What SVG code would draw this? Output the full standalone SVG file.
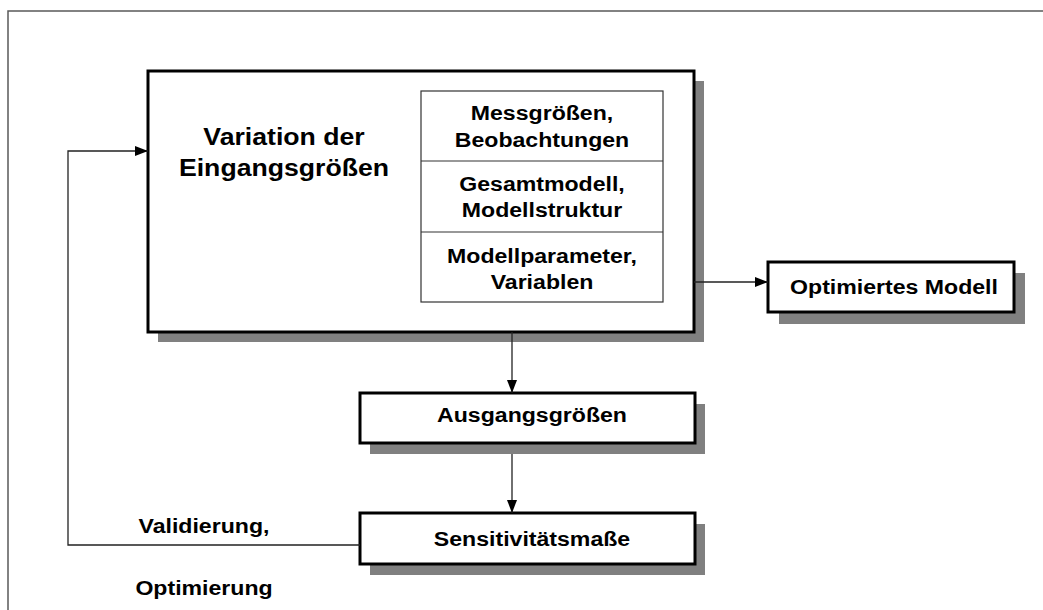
<svg xmlns="http://www.w3.org/2000/svg" width="1043" height="610" viewBox="0 0 1043 610">
  <defs>
    <marker id="arrow" viewBox="0 0 13 10" refX="13" refY="5" markerWidth="13" markerHeight="10" markerUnits="userSpaceOnUse" orient="auto">
      <path d="M0,0 L13,5 L0,10 Z" fill="#000"/>
    </marker>
  </defs>
  <style>
    .frame { fill: none; stroke: #5a5a5a; stroke-width: 1.5; }
    .shadow { fill: #808080; stroke: none; }
    .box { fill: #fff; stroke: #000; stroke-width: 3; }
    .cell { fill: #fff; stroke: #333; stroke-width: 1.2; }
    .link { fill: none; stroke: #222; stroke-width: 1.3; }
    .t { font-family: "Liberation Sans", Arial, sans-serif; font-weight: bold; font-size: 21px; fill: #000; text-anchor: middle; }
    .title { font-size: 24px; }
  </style>

  <rect width="1043" height="610" fill="#fff"/>
  <!-- page frame -->
  <path class="frame" d="M8,610 V11 H1043"/>

  <!-- main block: variation of inputs -->
  <g id="variation">
    <rect class="shadow" x="158" y="81" width="546" height="261"/>
    <rect class="box" x="148" y="71" width="546" height="261"/>
    <g transform="translate(284,0) scale(1.11,1)">
      <text class="t title" x="0" y="145">Variation der</text>
      <text class="t title" x="0" y="176">Eingangsgrößen</text>
    </g>
  </g>

  <g id="inputs">
    <rect class="cell" x="421" y="91" width="242" height="211"/>
    <line class="cell" x1="421" y1="161" x2="663" y2="161"/>
    <line class="cell" x1="421" y1="232" x2="663" y2="232"/>
    <g transform="translate(542,0) scale(1.1,1)">
      <text class="t" x="0" y="120">Messgrößen,</text>
      <text class="t" x="0" y="147">Beobachtungen</text>
      <text class="t" x="0" y="191">Gesamtmodell,</text>
      <text class="t" x="0" y="217">Modellstruktur</text>
      <text class="t" x="0" y="263">Modellparameter,</text>
      <text class="t" x="0" y="289">Variablen</text>
    </g>
  </g>

  <g id="optimiertes-modell">
    <rect class="shadow" x="779" y="273" width="246" height="51"/>
    <rect class="box" x="768" y="262" width="246" height="50"/>
    <g transform="translate(894,0) scale(1.1,1)">
      <text class="t" x="0" y="294">Optimiertes Modell</text>
    </g>
  </g>

  <g id="ausgangsgroessen">
    <rect class="shadow" x="370" y="404" width="335" height="50"/>
    <rect class="box" x="360" y="393" width="335" height="50"/>
    <g transform="translate(532,0) scale(1.1,1)">
      <text class="t" x="0" y="422">Ausgangsgrößen</text>
    </g>
  </g>

  <g id="sensitivitaetsmasse">
    <rect class="shadow" x="370" y="524" width="335" height="51"/>
    <rect class="box" x="360" y="513" width="335" height="51"/>
    <g transform="translate(532,0) scale(1.1,1)">
      <text class="t" x="0" y="546">Sensitivitätsmaße</text>
    </g>
  </g>

  <!-- connectors -->
  <g id="connectors">
    <line class="link" x1="694" y1="282" x2="768" y2="282" marker-end="url(#arrow)"/>
    <line class="link" x1="512" y1="332" x2="512" y2="393" marker-end="url(#arrow)"/>
    <line class="link" x1="512" y1="454" x2="512" y2="513" marker-end="url(#arrow)"/>
    <path class="link" d="M360,545 H68 V151 H148" marker-end="url(#arrow)"/>
  </g>

  <g id="feedback-label" transform="translate(204,0) scale(1.1,1)">
    <text class="t" x="0" y="533">Validierung,</text>
    <text class="t" x="0" y="595">Optimierung</text>
  </g>
</svg>
